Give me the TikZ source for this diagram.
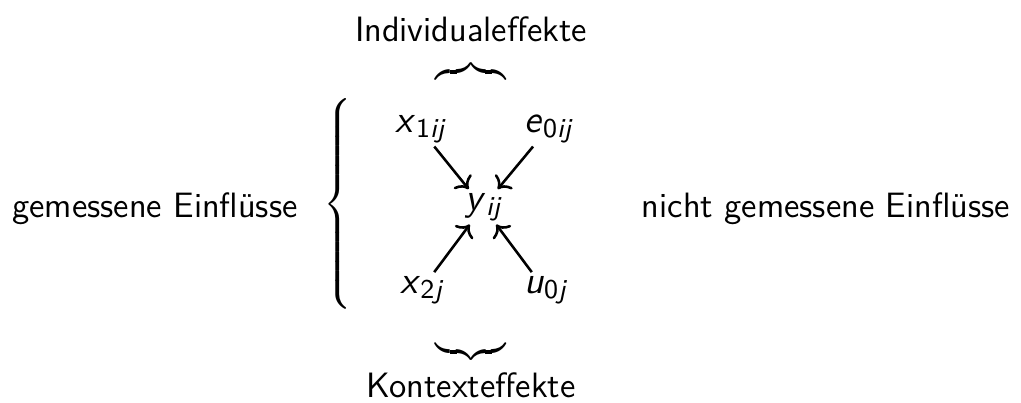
\documentclass[tikz,border=0pt]{standalone}
\renewcommand{\familydefault}{\sfdefault}
\usetikzlibrary{arrows.meta,positioning}
\tikzset{
var/.style={inner sep=1pt,anchor=base,font=\fontsize{12}{14}\selectfont},
lbl/.style={inner sep=0pt,anchor=base},
arrow/.style={->,thick}
}
\newcommand{\svar}[2]{\textit{#1}\raisebox{-1.6pt}{\fontsize{8.5}{10}\selectfont #2}}

\begin{document}
\begin{tikzpicture}[x=0.3125pt,y=0.3125pt,font=\fontsize{11}{13}\selectfont]
\useasboundingbox (0,0) rectangle (1021,402);
\node[var] (y) at (483,192) {\svar{y}{\itshape ij}};
\node[var] (x1) at (420,270) {\svar{x}{1\itshape ij}};
\node[var] (e0) at (548,270) {\svar{e}{0\itshape ij}};
\node[var] (x2) at (421,109) {\svar{x}{2\itshape j}};
\node[var] (u0) at (545,109) {\svar{u}{0\itshape j}};

\draw[arrow](x1)--(y);
\draw[arrow](e0)--(y);
\draw[arrow](x2)--(y);
\draw[arrow](u0)--(y);

\node[inner sep=0pt,font=\fontsize{14}{16}\selectfont] (lb) at (340,198) {$\left\{\vcenter{\hbox{\rule{0pt}{70pt}}}\right.$};
\node[inner sep=0pt,font=\fontsize{13}{15}\selectfont] (tb) at (471,330) {$\overbrace{\hspace{22pt}}$};
\node[inner sep=0pt,font=\fontsize{13}{15}\selectfont] (bb) at (471,50) {$\underbrace{\hspace{22pt}}$};

\node[lbl] (ind) at (471,361) {Individualeffekte};
\node[lbl] (kon) at (471,5) {Kontexteffekte};
\node[lbl] (gem) at (155,185) {gemessene Einflüsse};
\node[lbl] (ngem) at (826,185) {nicht gemessene Einflüsse};
\end{tikzpicture}
\end{document}
